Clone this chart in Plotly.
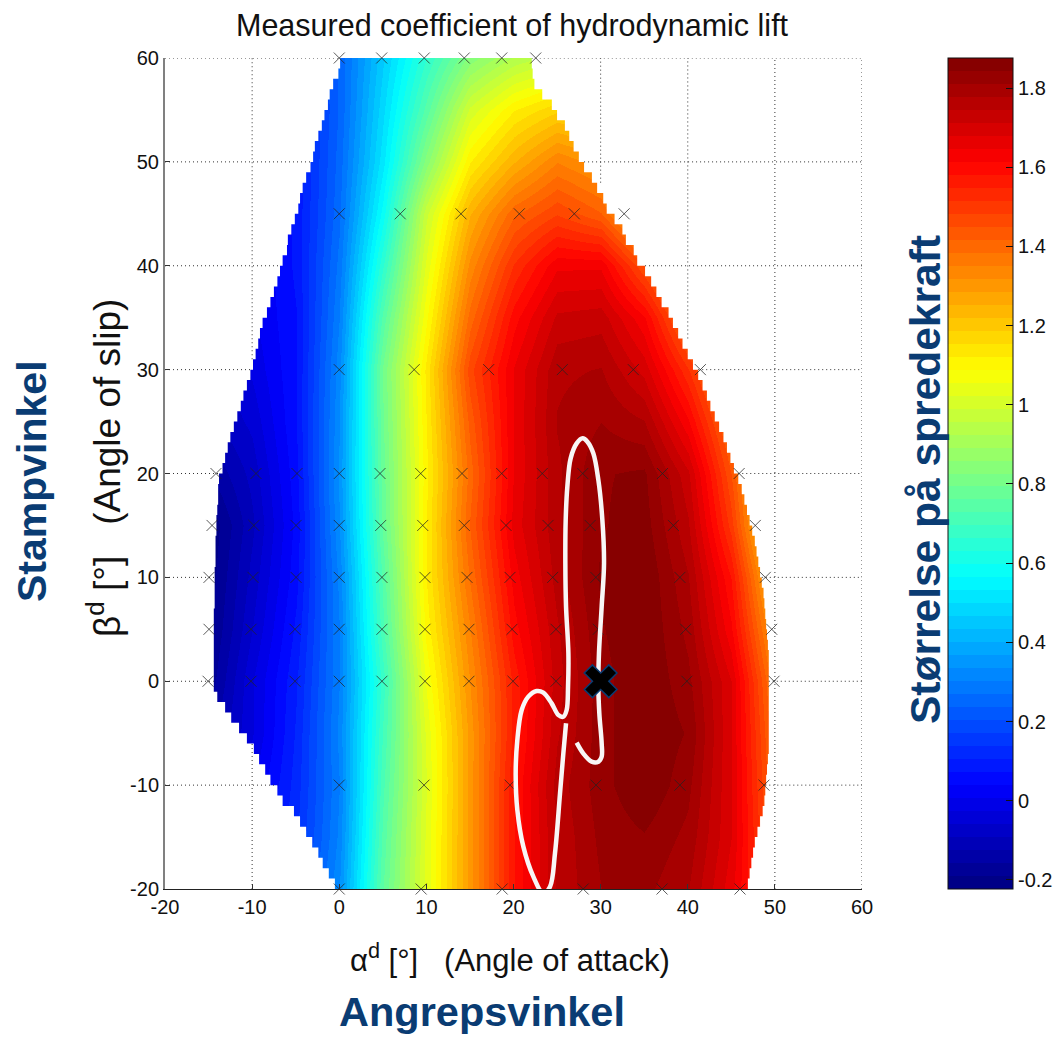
import plotly.graph_objects as go

# ---------- data ----------
alpha_grid = [-20, -15, -10, -5, 0, 5, 10, 15, 20, 25, 30, 35, 40, 45, 50, 55]
beta_grid = [-20, -15, -10, -5, 0, 5, 10, 15, 20, 25, 30, 35, 40, 45, 50, 55, 60]

lift_m20 = [-.05, .0, .05, .15, .33, .76, 1.03, 1.30, 1.58, 1.75, 1.81, 1.82, 1.78, 1.66, 1.45, 1.3]
lift_m15 = [-.08, -.03, .03, .13, .31, .74, 1.03, 1.30, 1.58, 1.75, 1.82, 1.84, 1.80, 1.68, 1.42, 1.3]
lift_m10 = [-.12, -.07, .0, .12, .30, .72, 1.02, 1.30, 1.58, 1.76, 1.83, 1.875, 1.82, 1.68, 1.40, 1.3]
lift_m05 = [-.2, -.14, -.03, .11, .31, .70, 1.03, 1.30, 1.56, 1.74, 1.83, 1.875, 1.84, 1.68, 1.38, 1.2]
lift_p00 = [-.22, -.18, -.03, .10, .30, .68, 1.06, 1.32, 1.56, 1.73, 1.83, 1.875, 1.82, 1.68, 1.35, 1.2]
lift_p05 = [-.22, -.20, -.06, .08, .30, .72, 1.10, 1.35, 1.60, 1.74, 1.84, 1.875, 1.80, 1.62, 1.28, 1.1]
lift_p10 = [-.22, -.21, -.08, .06, .31, .74, 1.12, 1.39, 1.63, 1.76, 1.85, 1.875, 1.78, 1.58, 1.2, 1.0]
lift_p15 = [-.22, -.22, -.10, .05, .33, .77, 1.12, 1.42, 1.66, 1.77, 1.84, 1.86, 1.75, 1.50, 1.1, .9]
lift_p20 = [-.2, -.16, -.08, .06, .34, .78, 1.11, 1.40, 1.65, 1.77, 1.84, 1.85, 1.72, 1.45, 1.1, .9]
lift_p25 = [-.15, -.1, -.05, .07, .33, .79, 1.12, 1.43, 1.65, 1.78, 1.81, 1.78, 1.62, 1.38, 1.1, .9]
lift_p30 = [-.1, -.08, -.02, .07, .32, .80, 1.13, 1.47, 1.65, 1.77, 1.78, 1.70, 1.52, 1.3, 1.0, .9]
lift_p35 = [-.1, -.05, .0, .07, .30, .74, 1.08, 1.40, 1.60, 1.72, 1.73, 1.62, 1.38, 1.2, 1.0, .9]
lift_p40 = [-.1, -.05, .0, .08, .28, .66, 1.03, 1.33, 1.52, 1.64, 1.64, 1.45, 1.25, 1.1, 1.0, .9]
lift_p45 = [-.1, -.05, .0, .08, .26, .58, .98, 1.25, 1.41, 1.48, 1.42, 1.22, 1.1, 1.0, 1.0, .9]
lift_p50 = [-.1, -.05, .0, .08, .25, .52, .84, 1.12, 1.25, 1.35, 1.30, 1.15, 1.1, 1.0, 1.0, .9]
lift_p55 = [-.1, -.05, .0, .08, .24, .49, .74, 1.00, 1.12, 1.18, 1.15, 1.1, 1.0, 1.0, 1.0, .9]
lift_p60 = [-.1, -.05, .0, .10, .24, .46, .66, .84, .93, .98, .98, 1.0, 1.0, 1.0, 1.0, .9]

edge_beta = list(range(-20, 61))
edge_left = [0.1, -0.5, -1.2, -1.9, -2.4, -3.1, -3.8, -4.5, -5.2, -6.5, -7.1, -7.9, -8.5, -9.2, -9.8, -10.6,
             -11.5, -12.4, -13.1, -14.0, -14.4, -14.4, -14.4, -14.4, -14.4, -14.4, -14.4, -14.4, -14.3, -14.3,
             -14.3, -14.3, -14.2, -14.2, -14.2, -14.1, -14.1, -14.0, -13.9, -13.9, -13.8, -13.4, -13.1, -12.8,
             -12.5, -12.1, -11.7, -11.3, -11.0, -10.6, -10.2, -9.9, -9.6, -9.3, -9.1, -8.8, -8.3, -7.9, -7.5,
             -7.1, -6.8, -6.5, -6.0, -5.9, -5.5, -5.1, -4.7, -4.5, -4.2, -3.8, -3.3, -3.0, -2.8, -2.4, -2.0,
             -1.7, -1.3, -1.1, -0.7, -0.1, 0.1]
edge_right = [46.6, 46.9, 47.1, 47.3, 47.5, 47.7, 48.0, 48.3, 48.6, 48.8, 48.9, 49.0, 49.1, 49.2, 49.3, 49.3,
              49.3, 49.3, 49.3, 49.3, 49.3, 49.3, 49.3, 49.3, 49.2, 49.1, 49.0, 48.9, 48.8, 48.7, 48.5, 48.3,
              48.1, 47.9, 47.7, 47.4, 47.1, 46.8, 46.5, 46.2, 45.8, 45.3, 44.9, 44.5, 44.1, 43.6, 43.1, 42.6,
              42.2, 41.7, 41.2, 40.6, 40.0, 39.4, 38.9, 38.3, 37.8, 37.0, 36.4, 35.8, 35.1, 34.2, 33.8, 32.9,
              32.5, 31.6, 30.7, 30.3, 29.6, 29.0, 28.1, 27.5, 26.9, 26.4, 25.9, 25.0, 24.4, 23.3, 22.4, 22.2, 22.1]

meas_p60 = [0, 4.87, 9.76, 14.35, 18.65, 22.55]
meas_p45 = [0, 7.0, 13.97, 20.67, 26.98, 32.7]
meas_p30 = [0, 8.6, 17.15, 25.6, 33.75, 41.45]
meas_p20 = [-14.15, -9.56, -4.85, 0, 4.68, 9.35, 14.09, 18.65, 23.3, 27.95, 37.1, 45.9]
meas_p15 = [-14.6, -9.8, -4.96, 0, 4.76, 9.58, 14.35, 19.14, 23.96, 28.8, 38.35, 47.75]
meas_p10 = [-14.95, -9.9, -4.96, 0, 4.9, 9.84, 14.66, 19.6, 24.5, 29.45, 39.1, 48.9]
meas_p05 = [-14.95, -10.13, -5.08, 0, 4.9, 9.84, 14.89, 19.83, 24.88, 29.73, 39.77, 49.64]
meas_p00 = [-15.06, -10.13, -5.08, 0, 4.9, 9.84, 14.89, 19.94, 24.88, 29.93, 39.9, 49.9]
meas_m10 = [0, 9.73, 19.6, 29.47, 39.1, 48.75]
meas_m20 = [0, 9.4, 18.7, 28, 37.05, 46]

path_alpha = [27.25, 28.0, 28.97, 29.74, 30.12, 30.12, 29.85, 29.74, 29.81, 30.12, 30.39, 30.2, 29.74, 29.16,
              28.48, 27.94, 27.25, 26.56, 26.18, 25.99, 25.95, 26.03, 26.3, 26.26, 26.1, 25.72, 25.15, 24.38,
              23.42, 22.66, 21.7, 20.94, 20.44, 20.25, 20.44, 21.13, 22.28, 23.42, 24.19, 24.76, 25.34, 25.72, 26.03]
path_beta = [-5.91, -6.94, -7.74, -7.74, -7.26, -5.98, -3.09, -0.52, 2.69, 7.18, 11.35, 15.52, 19.37, 21.94,
             23.06, 23.39, 22.9, 21.46, 18.73, 15.52, 11.35, 7.18, 2.69, -0.52, -2.77, -3.41, -3.25, -2.13,
             -1.1, -0.94, -1.48, -2.77, -5.65, -8.86, -12.39, -15.92, -18.81, -20.42, -19.78, -16.57, -10.79,
             -6.94, -4.05]

current_alpha = [30]
current_beta = [0]

axis_ticks = [-20, -10, 0, 10, 20, 30, 40, 50, 60]
axis_labels = ["-20", "-10", "0", "10", "20", "30", "40", "50", "60"]
bar_ticks = [-0.2, 0, 0.2, 0.4, 0.6, 0.8, 1, 1.2, 1.4, 1.6, 1.8]
bar_labels = ["-0.2", "0", "0.2", "0.4", "0.6", "0.8", "1", "1.2", "1.4", "1.6", "1.8"]
z_min, z_max = -0.223, 1.876

TITLE = "Measured coefficient of hydrodynamic lift"
XLABEL = "α<sup>d</sup> [°]   (Angle of attack)"
YLABEL = "β<sup>d</sup> [°]   (Angle of slip)"
NO_X = "Angrepsvinkel"
NO_Y = "Stampvinkel"
NO_BAR = "Størrelse på spredekraft"

# ---------- layout constants ----------
W, H = 1055, 1038
L, R, T, B = 165, 862, 58, 889
NAVY = "#0a3c73"
FONT = "Liberation Sans"


def px(x):
    return (x - L) / (R - L)


def py(y):
    return (B - y) / (B - T)


def jet(f):
    def c(v):
        return int(round(255 * max(0, min(1, v))))
    return "rgb(%d,%d,%d)" % (c(min(4 * f - 1.5, -4 * f + 4.5)), c(min(4 * f - 0.5, -4 * f + 3.5)), c(min(4 * f + 0.5, -4 * f + 2.5)))


scale = []
for i in range(64):
    col = jet((i + 0.5) / 64)
    scale += [[i / 64, col], [(i + 1) / 64, col]]

z = [lift_m20, lift_m15, lift_m10, lift_m05, lift_p00, lift_p05, lift_p10, lift_p15, lift_p20,
     lift_p25, lift_p30, lift_p35, lift_p40, lift_p45, lift_p50, lift_p55, lift_p60]

fig = go.Figure()
fig.add_trace(go.Heatmap(
    x=alpha_grid, y=beta_grid, z=z, zsmooth="best", zmin=z_min, zmax=z_max, colorscale=scale,
    hoverinfo="skip",
    colorbar=dict(
        x=px(948), xanchor="left", xpad=0, y=0, yanchor="bottom", ypad=0, len=1, lenmode="fraction",
        thickness=65, thicknessmode="pixels", outlinecolor="#111", outlinewidth=1,
        tickmode="array", tickvals=bar_ticks, ticktext=bar_labels,
        ticks="inside", ticklen=7, tickcolor="#111", tickwidth=1,
        tickfont=dict(family=FONT, size=20, color="#111"),
    ),
))

# white masks outside the measured region
for edge, side in ((edge_left, -20), (edge_right, 60)):
    fig.add_trace(go.Scatter(
        x=[side] + edge + [side], y=[-20] + edge_beta + [60], mode="lines", fill="toself",
        fillcolor="white", line=dict(width=0, shape="hv"), hoverinfo="skip", showlegend=False,
    ))

# dotted grid, only where the field does not cover it
gx, gy = [], []
for b in axis_ticks[1:]:
    i = edge_beta.index(b)
    gx += [-20, edge_left[i], None, edge_right[i], 60, None]
    gy += [b, b, None, b, b, None]
for a in axis_ticks[1:]:
    run = []
    for b, le, ri in zip(edge_beta, edge_left, edge_right):
        if a < le or a > ri:
            run.append(b)
        elif run:
            gx += [a, a, None]
            gy += [run[0], run[-1], None]
            run = []
    if run:
        gx += [a, a, None]
        gy += [run[0], run[-1], None]
fig.add_trace(go.Scatter(x=gx, y=gy, mode="lines", line=dict(color="#333", width=1, dash="1px,3px"),
                         hoverinfo="skip", showlegend=False))

# measurement points
meas = [(60, meas_p60), (45, meas_p45), (30, meas_p30), (20, meas_p20), (15, meas_p15), (10, meas_p10),
        (5, meas_p05), (0, meas_p00), (-10, meas_m10), (-20, meas_m20)]
mx, my = [], []
for b, row in meas:
    mx += row
    my += [b] * len(row)
fig.add_trace(go.Scatter(x=mx, y=my, mode="markers", cliponaxis=False, hoverinfo="skip", showlegend=False,
                         marker=dict(symbol="x-thin", size=11, line=dict(color="rgba(35,35,35,0.75)", width=1))))

fig.add_trace(go.Scatter(x=path_alpha, y=path_beta, mode="lines", hoverinfo="skip", showlegend=False,
                         line=dict(color="#f8f6f6", width=4.5, shape="spline", smoothing=1)))
fig.add_trace(go.Scatter(x=current_alpha, y=current_beta, mode="markers", hoverinfo="skip", showlegend=False,
                         marker=dict(symbol="x", size=29, color="black", line=dict(color=NAVY, width=1.5))))


def note(text, x, y, size, angle=0, bold=False, color="#111"):
    fig.add_annotation(text="<b>%s</b>" % text if bold else text, x=px(x), y=py(y), xref="paper", yref="paper",
                       showarrow=False, textangle=angle, xanchor="center", yanchor="middle",
                       font=dict(family=FONT, size=size, color=color))


note(TITLE, 512, 26, 30.5)
note(XLABEL, 510, 958, 31)
note(YLABEL, 104, 468, 37, angle=-90)
note(NO_X, 482, 1011, 41.5, bold=True, color=NAVY)
note(NO_Y, 32, 481, 41, angle=-90, bold=True, color=NAVY)
note(NO_BAR, 925, 480, 42.5, angle=-90, bold=True, color=NAVY)

for t in bar_ticks:
    yy = (t - z_min) / (z_max - z_min)
    fig.add_shape(type="line", xref="paper", yref="paper", x0=px(948), x1=px(955), y0=yy, y1=yy,
                  line=dict(color="#111", width=1))

axis_common = dict(range=[-20, 60], tickmode="array", tickvals=axis_ticks, ticktext=axis_labels,
                   showgrid=False, zeroline=False, ticks="inside", ticklen=5, tickcolor="#333",
                   tickfont=dict(family=FONT, size=20, color="#111"), showline=True, layer="above traces")
fig.update_layout(
    width=W, height=H, autosize=False, margin=dict(l=L, r=W - R, t=T, b=H - B, pad=0, autoexpand=False),
    paper_bgcolor="white", plot_bgcolor="white", showlegend=False,
    xaxis=dict(axis_common, linecolor="#222", linewidth=1),
    yaxis=dict(axis_common, linecolor="#808080", linewidth=2),
)

fig.write_html("out.html", config={"displayModeBar": False}, post_script="document.body.style.margin='0';")
